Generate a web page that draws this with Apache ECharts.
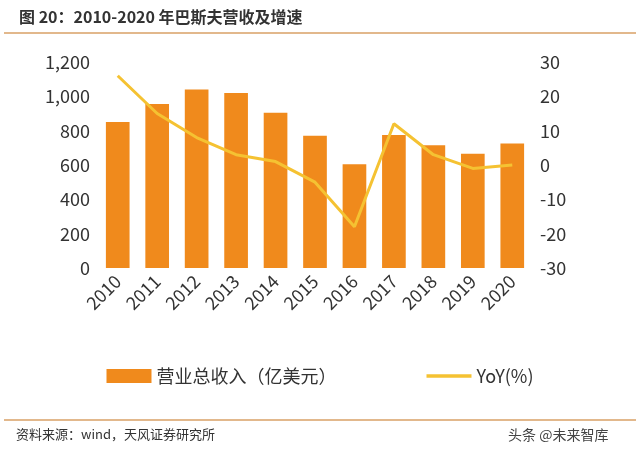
<!DOCTYPE html>
<html><head><meta charset="utf-8">
<script src="https://cdn.jsdelivr.net/npm/echarts@6/dist/echarts.min.js"></script>
<style>body{margin:0;background:#fff}#c{width:640px;height:455px}</style>
</head><body><div id="c"></div>
<script>
var years = ['2010','2011','2012','2013','2014','2015','2016','2017','2018','2019','2020'];
var revenue = [850, 955, 1040, 1020, 905, 770, 605, 775, 715, 665, 725];
var yoy = [26, 15, 8, 3, 1, -5, -18, 12, 3, -1, 0];
var font = '"Noto Sans CJK SC", sans-serif';
var myChart = echarts.init(document.getElementById('c'));
myChart.setOption({
    textStyle: {fontFamily: font},
    title: {
        text: '图 20：2010-2020 年巴斯夫营收及增速',
        left: 14, top: 4,
        textStyle: {fontSize: 16, fontWeight: 'bold', color: '#333', fontFamily: font}
    },
    graphic: [
        {type: 'line', shape: {x1: 4, y1: 33, x2: 636, y2: 33}, style: {stroke: '#d9a066', lineWidth: 1.5}},
        {type: 'line', shape: {x1: 4, y1: 420, x2: 636, y2: 420}, style: {stroke: '#d9a066', lineWidth: 1.5}},
        {type: 'text', left: 16, top: 428, style: {text: '资料来源：wind，天风证券研究所', fontSize: 13, fill: '#333', fontFamily: font}},
        {type: 'text', left: 508, top: 428, style: {text: '头条 @未来智库', fontSize: 14, fill: '#444', fontFamily: font}}
    ],
    legend: {
        bottom: 65, itemGap: 90, itemWidth: 45, itemHeight: 14,
        textStyle: {fontSize: 18, color: '#333'},
        data: [
            {name: '营业总收入（亿美元）', icon: 'rect'},
            {name: 'YoY(%)', icon: 'path://M0,0L40,0L40,3L0,3Z', itemStyle: {color: '#f5c232'}}
        ]
    },
    grid: {left: 98, right: 108, top: 62, bottom: 187},
    xAxis: {
        type: 'category', data: years,
        axisLine: {show: false}, axisTick: {show: false},
        axisLabel: {rotate: 45, fontSize: 18, color: '#333', margin: 10}
    },
    yAxis: [{
        type: 'value', min: 0, max: 1200, interval: 200,
        axisLabel: {fontSize: 18, color: '#333', formatter: function (v) { return v.toLocaleString('en-US'); }},
        splitLine: {show: false}
    }, {
        type: 'value', min: -30, max: 30, interval: 10,
        axisLabel: {fontSize: 18, color: '#333'},
        splitLine: {show: false}
    }],
    series: [{
        name: '营业总收入（亿美元）', type: 'bar', data: revenue,
        barWidth: '60%', itemStyle: {color: '#f08a1c'}
    }, {
        name: 'YoY(%)', type: 'line', yAxisIndex: 1, data: yoy,
        symbol: 'none', lineStyle: {color: '#f5c232', width: 3}, itemStyle: {color: '#f5c232'}
    }]
});
</script></body></html>
